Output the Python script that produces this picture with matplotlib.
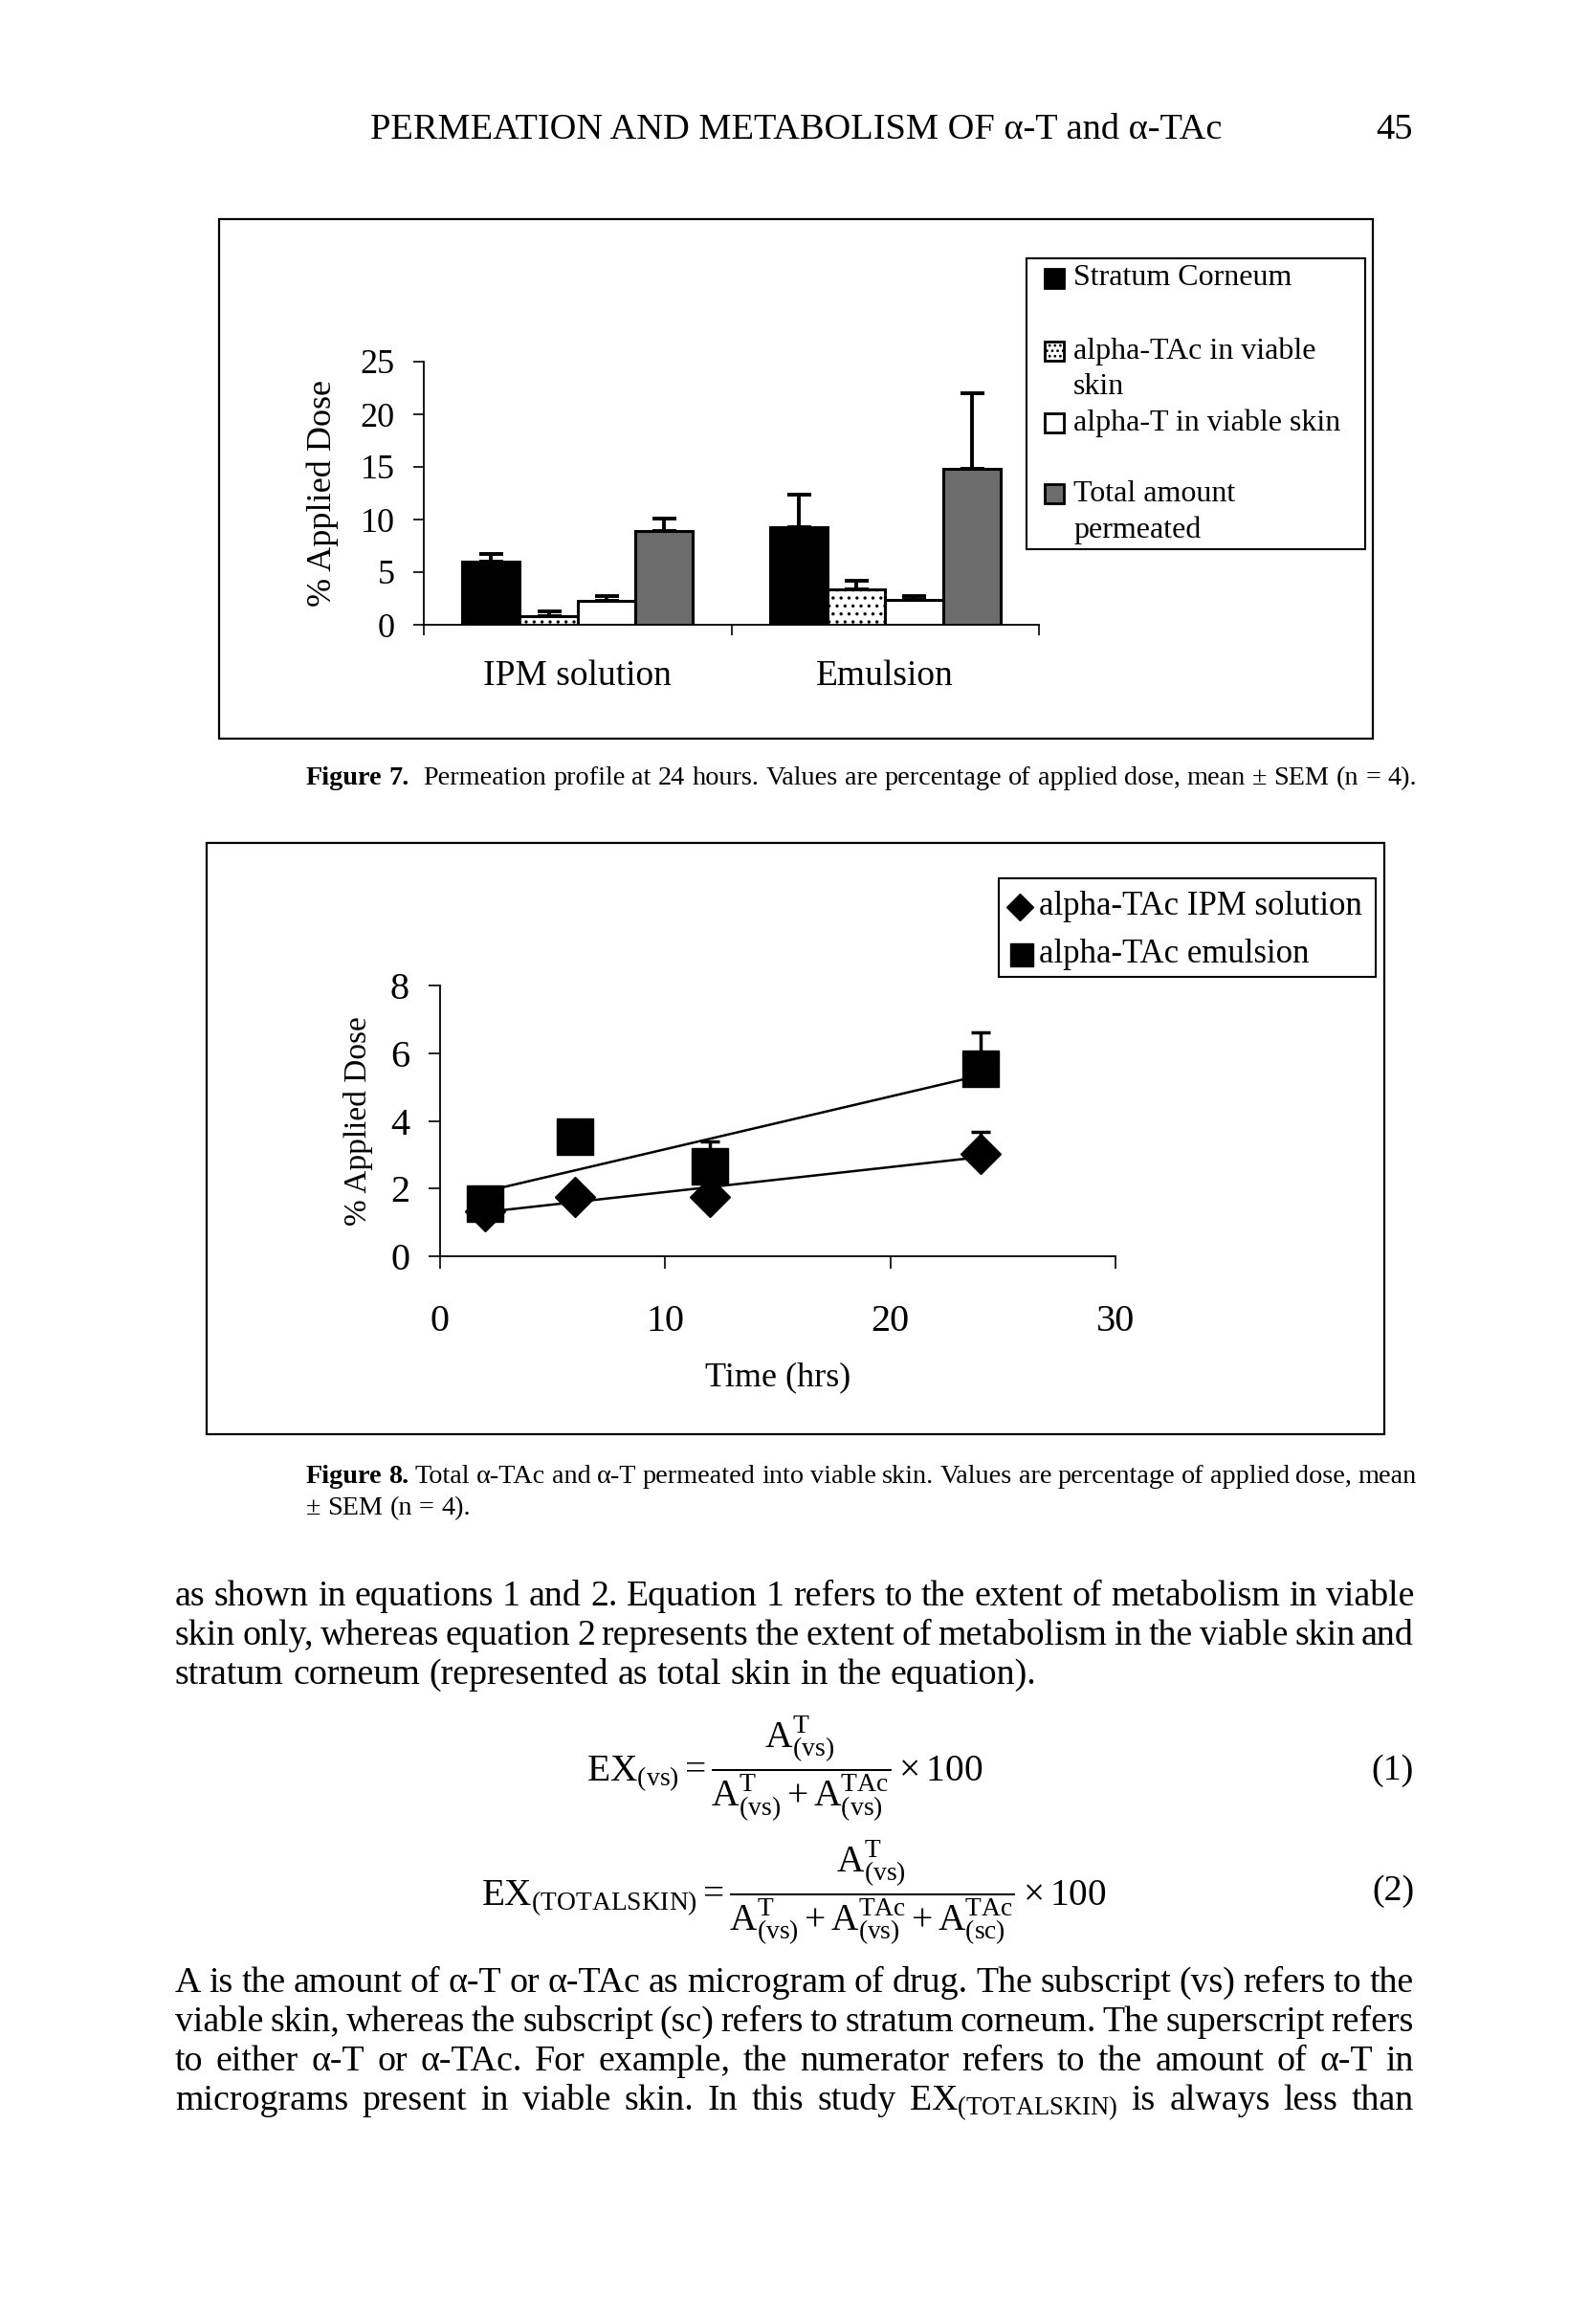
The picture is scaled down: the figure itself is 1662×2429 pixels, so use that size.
import matplotlib
matplotlib.use("Agg")
import matplotlib.pyplot as plt
from matplotlib.patches import Rectangle
from matplotlib.lines import Line2D
import numpy as np

# page size in pixels
W, H = 1662, 2429
DPI = 100

# Figure 7: permeation profile at 24 h (% applied dose, mean + SEM)
groups = ["IPM solution", "Emulsion"]
sc_mean = [6.0, 9.3]
sc_sem = [0.75, 3.1]
tac_vs_mean = [0.85, 3.4]
tac_vs_sem = [0.45, 0.8]
t_vs_mean = [2.3, 2.35]
t_vs_sem = [0.4, 0.4]
total_mean = [8.95, 14.8]
total_sem = [1.15, 7.2]

# Figure 8: alpha-TAc in viable skin vs time
time_h = [2, 6, 12, 24]
ipm_mean = [1.33, 1.76, 1.76, 3.03]
ipm_sem = [0.1, 0.1, 0.1, 0.65]
emu_mean = [1.55, 3.52, 2.67, 5.53]
emu_sem = [0.3, 0.3, 0.73, 1.08]

plt.rcParams["font.family"] = ["Liberation Serif", "DejaVu Serif"]
plt.rcParams["mathtext.fontset"] = "custom"
plt.rcParams["mathtext.rm"] = "Liberation Serif"
plt.rcParams["mathtext.it"] = "Liberation Serif:italic"
plt.rcParams["mathtext.bf"] = "Liberation Serif:bold"
plt.rcParams["hatch.linewidth"] = 1.2


def fx(x):
    return x / W


def fy(y):
    return 1 - y / H


fig = plt.figure(figsize=(W / DPI, H / DPI), dpi=DPI)
renderer = fig.canvas.get_renderer()


def width_of(t):
    return t.get_window_extent(renderer).width


def frame(x0, y0, x1, y1, lw=1.6):
    fig.add_artist(Rectangle((fx(x0), fy(y1)), (x1 - x0) / W, (y1 - y0) / H,
                             transform=fig.transFigure, fill=False,
                             edgecolor="black", linewidth=lw))


def put_words(words, y, x0, x1=None, size=24, justify=True):
    arts = []
    for w in words:
        weight = "normal"
        if isinstance(w, tuple):
            w, weight = w
        arts.append(fig.text(0, fy(y), w, fontsize=size, fontweight=weight,
                             ha="left", va="baseline"))
    widths = [width_of(t) for t in arts]
    if justify and x1 is not None and len(arts) > 1:
        gap = (x1 - x0 - sum(widths)) / (len(arts) - 1)
    else:
        gap = 0.25 * size * DPI / 72
    x = x0
    for t, wd in zip(arts, widths):
        t.set_x(fx(x))
        x += wd + gap
    return x - gap


def fit_size(s, target, size=24, weight="normal"):
    t = fig.text(0, 0, s, fontsize=size, fontweight=weight)
    w = width_of(t)
    t.remove()
    return size * target / w


# ---------------- page header ----------------
hdr = "PERMEATION AND METABOLISM OF α-T and α-TAc"
hs = fit_size(hdr, 1278 - 387)
fig.text(fx(387), fy(145), hdr, fontsize=hs, ha="left", va="baseline")
fig.text(fx(1477), fy(145), "45", fontsize=hs, ha="right", va="baseline")

# ---------------- Figure 7 ----------------
frame(229, 229, 1435, 772)
ax7 = fig.add_axes([fx(443), fy(653), (1086 - 443) / W, (653 - 378) / H])
x = np.arange(len(groups)) + 1
bw = 0.1875
styles = [
    (sc_mean, sc_sem, dict(color="black")),
    (tac_vs_mean, tac_vs_sem, dict(color="white", hatch="..")),
    (t_vs_mean, t_vs_sem, dict(color="white")),
    (total_mean, total_sem, dict(color="#6c6c6c")),
]
for i, (m, e, st) in enumerate(styles):
    ax7.bar(x + (i - 1.5) * bw, m, bw, yerr=[np.zeros(len(m)), e],
            edgecolor="black", linewidth=2.2, zorder=3,
            error_kw=dict(elinewidth=2.8, capsize=9, capthick=2.8,
                          ecolor="black", zorder=2),
            **st)
ax7.set_xlim(0.5, 2.5)
ax7.set_ylim(0, 25)
ax7.set_yticks(range(0, 26, 5))
ax7.set_xticks(x)
ax7.set_xticklabels(groups)
ax7.set_xticks([0.5, 1.5, 2.5], minor=True)
ax7.tick_params(axis="x", which="major", length=0, pad=26, labelsize=27)
ax7.tick_params(axis="x", which="minor", length=8, width=1.2, direction="out")
ax7.tick_params(axis="y", length=8, width=1.2, direction="out", pad=14,
                labelsize=26)
for s in ["top", "right"]:
    ax7.spines[s].set_visible(False)
for s in ["left", "bottom"]:
    ax7.spines[s].set_linewidth(1.3)
ax7.set_ylabel("% Applied Dose", fontsize=26, va="center", ha="center")
ax7.yaxis.set_label_coords(-0.164, 0.5)

# legend for figure 7
frame(1073, 270, 1427, 574, lw=1.5)
leg7 = [
    (291, ["Stratum Corneum"], dict(facecolor="black")),
    (367, ["alpha-TAc in viable", "skin"], dict(facecolor="white", hatch="...")),
    (442, ["alpha-T in viable skin"], dict(facecolor="white")),
    (516, ["Total amount", "permeated"], dict(facecolor="#6c6c6c")),
]
for yy, lines, st in leg7:
    fig.add_artist(Rectangle((fx(1092), fy(yy + 10)), 20 / W, 20 / H,
                             transform=fig.transFigure, edgecolor="black",
                             linewidth=2.0, **st))
    for k, ln in enumerate(lines):
        fig.text(fx(1122), fy(yy + k * 38), ln, fontsize=23,
                 ha="left", va="center")

cap = fit_size("Figure 7. Permeation profile at 24 hours. Values are percentage "
               "of applied dose, mean ± SEM (n = 4).", 1469 - 320, size=20)
put_words([("Figure", "bold"), ("7.", "bold"), "", "Permeation", "profile", "at",
           "24", "hours.", "Values", "are", "percentage", "of", "applied",
           "dose,", "mean", "±", "SEM", "(n", "=", "4)."],
          820, 320, size=cap, justify=False)

# ---------------- Figure 8 ----------------
frame(216, 881, 1447, 1499)
ax8 = fig.add_axes([fx(460), fy(1313), (1166 - 460) / W, (1313 - 1030) / H])
tt = np.array(time_h, dtype=float)
for m in (emu_mean, ipm_mean):
    k, b = np.polyfit(tt, m, 1)
    xs = np.array([tt.min(), tt.max()])
    ax8.plot(xs, k * xs + b, color="black", linewidth=1.8, zorder=2)
ax8.errorbar(tt, ipm_mean, yerr=[np.zeros(4), ipm_sem], fmt="none",
             ecolor="black", elinewidth=2.5, capsize=7, capthick=2.5, zorder=1)
ax8.errorbar(tt, emu_mean, yerr=[np.zeros(4), emu_sem], fmt="none",
             ecolor="black", elinewidth=2.5, capsize=7, capthick=2.5, zorder=1)
ax8.plot(tt, ipm_mean, linestyle="none", marker="D", markersize=21.5,
         color="black", zorder=3, clip_on=False)
ax8.plot(tt, emu_mean, linestyle="none", marker="s", markersize=28,
         color="black", zorder=4, clip_on=False)
ax8.set_xlim(0, 30)
ax8.set_ylim(0, 8)
ax8.set_xticks([0, 10, 20, 30])
ax8.set_yticks([0, 2, 4, 6, 8])
ax8.tick_params(axis="x", length=9, width=1.2, direction="out", pad=27,
                labelsize=29)
ax8.tick_params(axis="y", length=9, width=1.2, direction="out", pad=14,
                labelsize=29)
for s in ["top", "right"]:
    ax8.spines[s].set_visible(False)
for s in ["left", "bottom"]:
    ax8.spines[s].set_linewidth(1.3)
ax8.set_xlabel("Time (hrs)", fontsize=26, va="center")
ax8.xaxis.set_label_coords(0.5, -(1440 - 1313) / 283)
ax8.set_ylabel("% Applied Dose", fontsize=24, va="center", ha="center")
ax8.yaxis.set_label_coords(-(460 - 375) / 706, 0.5)

# legend for figure 8
frame(1044, 918, 1438, 1021, lw=1.5)
fig.add_artist(Line2D([fx(1066)], [fy(948)], marker="D", markersize=14,
                      color="black", linestyle="none",
                      transform=fig.transFigure))
fig.add_artist(Line2D([fx(1068)], [fy(998)], marker="s", markersize=17,
                      color="black", linestyle="none",
                      transform=fig.transFigure))
fig.text(fx(1086), fy(948), "alpha-TAc IPM solution", fontsize=25,
         ha="left", va="center")
fig.text(fx(1086), fy(998), "alpha-TAc emulsion", fontsize=25,
         ha="left", va="center")

put_words([("Figure", "bold"), ("8.", "bold"), "Total", "α-TAc", "and", "α-T",
           "permeated", "into", "viable", "skin.", "Values", "are",
           "percentage", "of", "applied", "dose,", "mean"],
          1550, 320, 1481, size=cap)
put_words("± SEM (n = 4).".split(), 1583, 320, size=cap, justify=False)

# ---------------- body text ----------------
LEFT, RIGHT = 183, 1478
body = fit_size("stratum corneum (represented as total skin in the equation).",
                1085 - LEFT)
para1 = [
    "as shown in equations 1 and 2. Equation 1 refers to the extent of metabolism in viable",
    "skin only, whereas equation 2 represents the extent of metabolism in the viable skin and",
    "stratum corneum (represented as total skin in the equation).",
]
for i, ln in enumerate(para1):
    put_words(ln.split(), 1678 + i * 41, LEFT, RIGHT, size=body,
              justify=i < len(para1) - 1)

eq1 = (r"$\mathrm{EX}_{\mathrm{(vs)}} = \dfrac{\mathrm{A}^{\mathrm{T}}_{\mathrm{(vs)}}}"
       r"{\mathrm{A}^{\mathrm{T}}_{\mathrm{(vs)}} + \mathrm{A}^{\mathrm{TAc}}_{\mathrm{(vs)}}}"
       r"\times 100$")
eq2 = (r"$\mathrm{EX}_{\mathrm{(TOTALSKIN)}} = \dfrac{\mathrm{A}^{\mathrm{T}}_{\mathrm{(vs)}}}"
       r"{\mathrm{A}^{\mathrm{T}}_{\mathrm{(vs)}} + \mathrm{A}^{\mathrm{TAc}}_{\mathrm{(vs)}}"
       r" + \mathrm{A}^{\mathrm{TAc}}_{\mathrm{(sc)}}}\times 100$")
e1 = fit_size(eq1, 1028 - 613)
fig.text(fx(613), fy(1848), eq1, fontsize=e1, ha="left", va="center")
fig.text(fx(RIGHT), fy(1851), "(1)", fontsize=body, ha="right", va="center")
e2 = fit_size(eq2, 1158 - 503)
fig.text(fx(503), fy(1978), eq2, fontsize=e2, ha="left", va="center")
fig.text(fx(RIGHT), fy(1977), "(2)", fontsize=body, ha="right", va="center")

para2 = [
    "A is the amount of α-T or α-TAc as microgram of drug. The subscript (vs) refers to the",
    "viable skin, whereas the subscript (sc) refers to stratum corneum. The superscript refers",
    "to either α-T or α-TAc. For example, the numerator refers to the amount of α-T in",
    r"micrograms present in viable skin. In this study EX$_{\mathrm{(TOTALSKIN)}}$ is always less than",
]
for i, ln in enumerate(para2):
    put_words(ln.split(), 2082 + i * 41, LEFT, RIGHT, size=body)

fig.savefig("out.png", dpi=DPI)
